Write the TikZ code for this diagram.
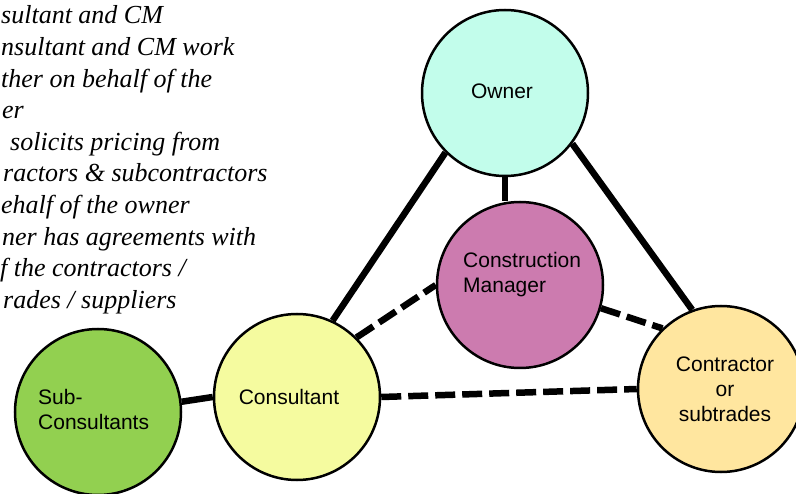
\documentclass[tikz,border=0pt]{standalone}
\usepackage{fontspec}
\setmainfont{Liberation Serif}
\newfontfamily\arialfont{Liberation Sans}
\definecolor{ownerc}{HTML}{C2FDEB}
\definecolor{cmc}{HTML}{CC7BAF}
\definecolor{contrc}{HTML}{FFE69F}
\definecolor{consc}{HTML}{F5FB9F}
\definecolor{subc}{HTML}{92D050}
\begin{document}
\begin{tikzpicture}[x=1pt,y=-1pt,
  bub/.style={circle,draw=black,line width=2.5pt,minimum size=166pt,inner sep=0pt},
  lbl/.style={font=\arialfont\fontsize{21}{25}\selectfont,inner sep=0pt},
  notes/.style={font=\itshape\fontsize{26}{31.6}\selectfont,inner sep=0pt,anchor=base west},
  link/.style={line width=6.5pt},
  dlink/.style={line width=6.5pt,dash pattern=on 20pt off 7pt}]
\useasboundingbox (0,0) rectangle (796,494);

% notes (cut off at the left edge)
\node[notes] (note1) at (1,24) {sultant and CM};
\node[notes] (note2) at (1,55.6) {nsultant and CM work};
\node[notes] (note3) at (1,87.2) {ther on behalf of the};
\node[notes] (note4) at (2,118.8) {er};
\node[notes] (note5) at (10,150.4) {solicits pricing from};
\node[notes] (note6) at (3,182) {ractors \& subcontractors};
\node[notes] (note7) at (1,213.6) {ehalf of the owner};
\node[notes] (note8) at (2,245.2) {ner has agreements with};
\node[notes] (note9) at (0,276.8) {f the contractors /};
\node[notes] (note10) at (3,308.4) {rades / suppliers};

% circles
\node[bub,fill=ownerc] (owner) at (505,93) {};
\node[bub,fill=cmc] (cm) at (520,285) {};
\node[bub,fill=contrc] (contr) at (721,389) {};
\node[bub,fill=consc] (cons) at (297,397) {};
\node[bub,fill=subc] (sub) at (98,412) {};

% connectors
\draw[link] (owner.225) -- (cons.65);
\draw[link] (owner.south) -- (owner.south |- cm.north);
\draw[link] (owner.-37) -- (contr.110);
\draw[link] (sub.7) -- (cons.west);
\draw[dlink] (cons.45) -- (cm.west);
\draw[dlink] (cm.-16) -- (contr.134);
\draw[dlink] (cons.east) -- (contr.west);

% labels
\node[lbl] (ownert) at (502,91) {Owner};
\node[lbl,align=left,anchor=west] (cmt) at (463,275) {Construction\\Manager};
\node[lbl,align=center] (contrt) at (725,389) {Contractor\\or\\subtrades};
\node[lbl] (const) at (289,397) {Consultant};
\node[lbl,align=left,anchor=west] (subt) at (38,409) {Sub-\\Consultants};
\end{tikzpicture}
\end{document}
